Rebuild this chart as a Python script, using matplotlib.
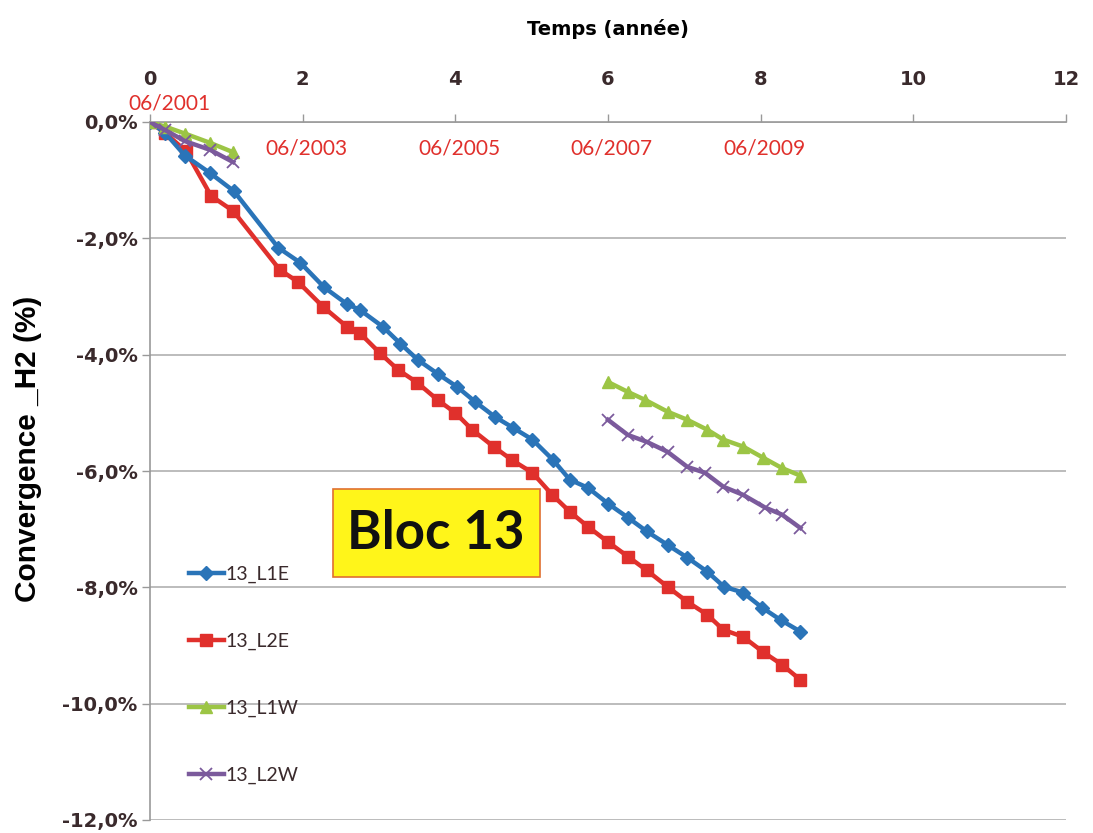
import numpy as np
import matplotlib
matplotlib.use("Agg")
import matplotlib.pyplot as plt
from matplotlib.patches import Rectangle

# ---- data (years since 06/2001, convergence in %) ----
x_l1e = [0, 0.20, 0.46, 0.79, 1.10, 1.68, 1.97, 2.28, 2.58, 2.75, 3.05, 3.28, 3.51, 3.77, 4.02,
         4.26, 4.52, 4.76, 5.01, 5.28, 5.50, 5.74, 6.00, 6.26, 6.51, 6.78, 7.04, 7.30, 7.52,
         7.77, 8.02, 8.26, 8.52]
y_l1e = [0, -0.19, -0.58, -0.88, -1.19, -2.16, -2.42, -2.84, -3.13, -3.23, -3.52, -3.81, -4.09,
         -4.33, -4.55, -4.81, -5.07, -5.26, -5.46, -5.81, -6.15, -6.29, -6.56, -6.80, -7.04,
         -7.27, -7.49, -7.73, -7.99, -8.09, -8.35, -8.56, -8.76]

x_l2e = [0, 0.20, 0.47, 0.80, 1.09, 1.70, 1.94, 2.27, 2.58, 2.75, 3.01, 3.25, 3.50, 3.77, 4.00,
         4.22, 4.50, 4.74, 5.01, 5.27, 5.50, 5.74, 6.00, 6.26, 6.51, 6.78, 7.04, 7.30, 7.51,
         7.77, 8.03, 8.28, 8.52]
y_l2e = [0, -0.19, -0.50, -1.27, -1.53, -2.54, -2.75, -3.18, -3.52, -3.63, -3.97, -4.26, -4.48,
         -4.78, -5.00, -5.29, -5.58, -5.81, -6.03, -6.41, -6.70, -6.96, -7.22, -7.47, -7.71,
         -7.99, -8.25, -8.47, -8.73, -8.85, -9.11, -9.33, -9.59]

x_l1w = [0, 0.20, 0.46, 0.79, 1.09, np.nan, 6.00, 6.26, 6.49, 6.78, 7.04, 7.30, 7.51, 7.77,
         8.03, 8.28, 8.52]
y_l1w = [0, -0.08, -0.20, -0.36, -0.52, np.nan, -4.47, -4.64, -4.78, -4.98, -5.12, -5.29,
         -5.46, -5.58, -5.77, -5.95, -6.08]

x_l2w = [0, 0.20, 0.46, 0.79, 1.09, np.nan, 6.00, 6.26, 6.51, 6.78, 7.04, 7.27, 7.51, 7.77,
         8.06, 8.28, 8.52]
y_l2w = [0, -0.14, -0.33, -0.48, -0.69, np.nan, -5.12, -5.38, -5.50, -5.67, -5.93, -6.03,
         -6.27, -6.41, -6.63, -6.75, -6.98]

series_names = ["13_L1E", "13_L2E", "13_L1W", "13_L2W"]
date_labels = ["06/2001", "06/2003", "06/2005", "06/2007", "06/2009"]
date_pos = [0.25, 2.05, 4.05, 6.05, 8.05]
date_y = [0.32, -0.45, -0.45, -0.45, -0.45]

x_ticks = [0, 2, 4, 6, 8, 10, 12]
y_ticks = [0, -2, -4, -6, -8, -10, -12]
y_ticklabels = ["0,0%", "-2,0%", "-4,0%", "-6,0%", "-8,0%", "-10,0%", "-12,0%"]

# ---- figure ----
fig = plt.figure(figsize=(10.93, 8.33), dpi=100)
ax = fig.add_axes([150 / 1093, 1 - 820 / 833, 916 / 1093, (820 - 122) / 833])

c_blue = "#2a74b8"
c_red = "#e0302c"
c_green = "#9cc545"
c_purple = "#7b5a9c"
txt_col = "#3a2a2c"

ax.plot(x_l1e, y_l1e, color=c_blue, lw=3.2, marker="D", ms=7.5, label=series_names[0], zorder=4)
ax.plot(x_l2e, y_l2e, color=c_red, lw=3.2, marker="s", ms=9, label=series_names[1], zorder=3)
ax.plot(x_l1w, y_l1w, color=c_green, lw=3.2, marker="^", ms=9, label=series_names[2], zorder=5)
ax.plot(x_l2w, y_l2w, color=c_purple, lw=3.2, marker="x", ms=9, mew=1.3, label=series_names[3], zorder=6)

ax.set_xlim(0, 12)
ax.set_ylim(-12, 0)
ax.xaxis.tick_top()
ax.xaxis.set_label_position("top")
ax.set_xticks(x_ticks)
ax.set_yticks(y_ticks)
ax.set_yticklabels(y_ticklabels)

for lab in ax.get_xticklabels() + ax.get_yticklabels():
    lab.set_fontfamily("DejaVu Sans")
    lab.set_fontweight("bold")
    lab.set_fontsize(14)
    lab.set_color(txt_col)
ax.tick_params(axis="both", length=6, color="#999999", width=1, direction="out")
ax.tick_params(axis="x", pad=18)
ax.tick_params(axis="y", pad=3)

ax.set_xlabel("Temps (année)", fontfamily="DejaVu Sans", fontweight="bold", fontsize=14,
              color="black", labelpad=25)
ax.set_ylabel("Convergence _H2 (%)", fontfamily="Liberation Sans", fontweight="bold",
              fontsize=21.5, color="black")
ax.yaxis.set_label_coords(-0.118, 0.531)

ax.grid(axis="y", color="#b0b0b0", lw=1.2)
ax.grid(axis="x", visible=False)
for s in ["right", "bottom"]:
    ax.spines[s].set_visible(False)
for s in ["left", "top"]:
    ax.spines[s].set_color("#999999")
    ax.spines[s].set_linewidth(1.2)

for lbl, xp, yp in zip(date_labels, date_pos, date_y):
    ax.text(xp, yp, lbl, color=c_red, fontsize=15, fontfamily="Lato",
            ha="center", va="center", clip_on=False)

ax.add_patch(Rectangle((0.1998, 0.348), 0.226, 0.126, transform=ax.transAxes,
                       facecolor="#fff51a", edgecolor="#e07030", lw=1.2, zorder=7))
ax.text(0.3122, 0.411, "Bloc 13", fontsize=38, fontweight="bold", fontfamily="Lato",
        color="#111111", ha="center", va="center", transform=ax.transAxes, zorder=8)

leg = ax.legend(loc="upper left", bbox_to_anchor=(0.034, 0.375), frameon=False,
                prop={"family": "Lato", "size": 14}, labelspacing=2.55,
                handlelength=1.8, handletextpad=0.1, borderaxespad=0)
for t in leg.get_texts():
    t.set_color(txt_col)

fig.savefig("out.png", dpi=100)
